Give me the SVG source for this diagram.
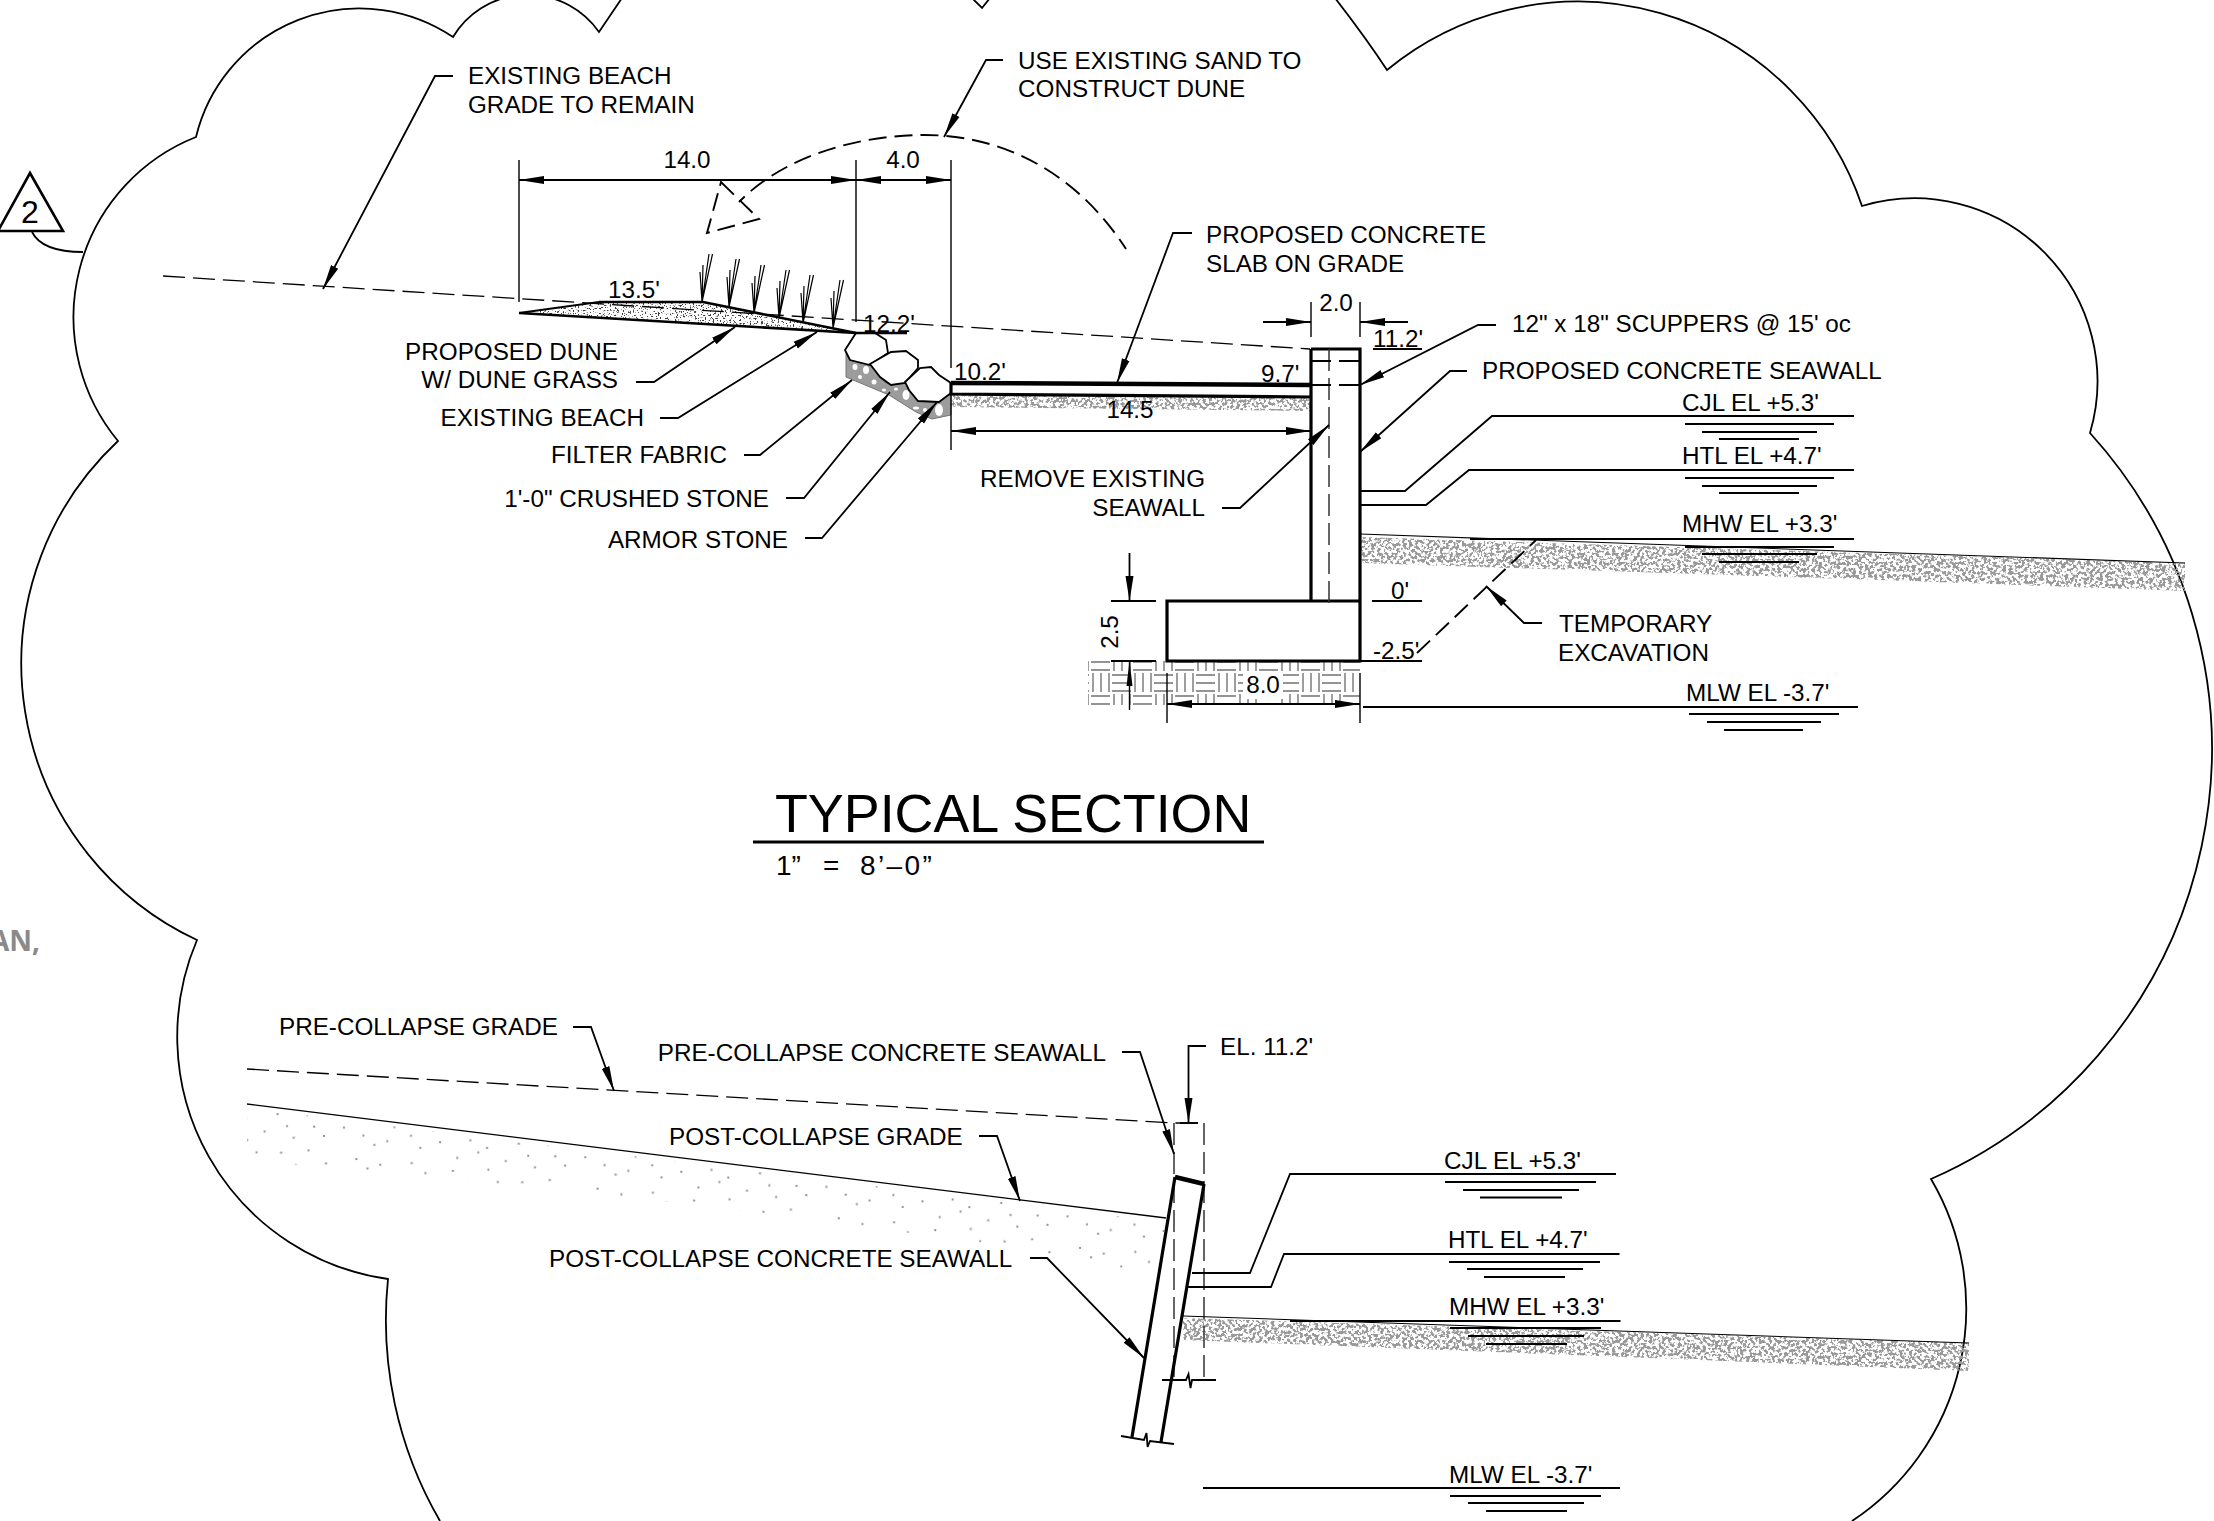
<svg xmlns="http://www.w3.org/2000/svg" width="2214" height="1521" viewBox="0 0 2214 1521">
<style>
text{font-family:"Liberation Sans",Arial,sans-serif;font-size:24.25px;fill:#000}
.e{text-anchor:end}.m{text-anchor:middle}
.l{fill:none;stroke:#000;stroke-width:1.8}
.thin{fill:none;stroke:#000;stroke-width:1.4}
.hair{fill:none;stroke:#000;stroke-width:1.1}
.a{fill:none;stroke:#000;stroke-width:1.8;marker-end:url(#ah)}
.d{fill:none;stroke:#000;stroke-width:1.8;marker-start:url(#ah2);marker-end:url(#ah)}
.t{fill:none;stroke:#000;stroke-width:2.6}
.w{fill:none;stroke:#000;stroke-width:3.2}
.gd{fill:none;stroke:#000;stroke-width:1.3;stroke-dasharray:22 8}
.ed{fill:none;stroke:#333;stroke-width:1.5;stroke-dasharray:22 7}
.cd{fill:none;stroke:#000;stroke-width:1.9;stroke-dasharray:18 8}
.stone{fill:#fff;stroke:#000;stroke-width:1.8}
.g{fill:#fff}
</style>
<defs>
<marker id="ah" markerUnits="userSpaceOnUse" markerWidth="26" markerHeight="12" viewBox="0 0 26 12" refX="25" refY="6" orient="auto"><path d="M0 2L25 6L0 10Z"/></marker>
<marker id="ah2" markerUnits="userSpaceOnUse" markerWidth="26" markerHeight="12" viewBox="0 0 26 12" refX="25" refY="6" orient="auto-start-reverse"><path d="M0 2L25 6L0 10Z"/></marker>
<filter id="sand" x="0" y="0" width="1" height="1" color-interpolation-filters="sRGB">
<feTurbulence type="fractalNoise" baseFrequency="0.32" numOctaves="2" seed="7" result="n"/>
<feColorMatrix in="n" type="matrix" values="0 0 0 0 .6 0 0 0 0 .6 0 0 0 0 .6 11 0 0 0 -5.2"/>
<feComposite in2="SourceAlpha" operator="in"/>
</filter>
<filter id="dune" x="0" y="0" width="1" height="1" color-interpolation-filters="sRGB">
<feTurbulence type="fractalNoise" baseFrequency="0.6" numOctaves="2" seed="4" result="n"/>
<feColorMatrix in="n" type="matrix" values="0 0 0 0 .25 0 0 0 0 .25 0 0 0 0 .25 12 0 0 0 -7"/>
<feComposite in2="SourceAlpha" operator="in"/>
</filter>
<pattern id="sparse" patternUnits="userSpaceOnUse" width="180" height="60" patternTransform="rotate(7) scale(1.35)">
<path fill="none" stroke="#8c8c8c" stroke-width="1.5" d="M5 4h1.4M14 10h1.4M22 6h1.4M31 13h1.4M36 8h1.4M9 22h1.4M18 28h1.4M27 24h1.4M44 18h1.4M52 26h1.4M60 12h1.4M66 20h1.4M72 9h1.4M80 30h1.4M88 16h1.4M95 24h1.4M101 20h1.4M108 10h1.4M116 28h1.4M124 14h1.4M132 22h1.4M138 30h1.4M146 12h1.4M152 20h1.4M160 26h1.4M168 8h1.4M174 18h1.4M6 40h1.4M15 46h1.4M24 42h1.4M38 50h1.4M47 38h1.4M58 44h1.4M70 52h1.4M78 40h1.4M90 48h1.4M104 36h1.4M112 44h1.4M120 54h1.4M130 42h1.4M142 50h1.4M150 38h1.4M164 46h1.4M172 54h1.4"/>
</pattern>
<pattern id="weave" patternUnits="userSpaceOnUse" x="1090" y="651" width="42" height="42">
<path d="M1 3H20M1 11H20M1 19H20M22 24H41M22 32H41M22 40H41M24 1V20M32 1V20M40 1V20M3 22V41M11 22V41M19 22V41" fill="none" stroke="#949494" stroke-width="1.8"/>
</pattern>
<g id="grass"><path d="M0 0L10.5 -48M0 0L7 -48M0 0L1 -37M0 0L-2 -30" fill="none" stroke="#000" stroke-width="1.2"/></g>
</defs>
<rect width="2214" height="1521" fill="#fff"/>

<g id="revision-cloud">
<path class="l" d="M440 1521A400 400 0 0 1 388 1279A245 245 0 0 1 197 940A305 305 0 0 1 118 441A194 194 0 0 1 196 137A168 168 0 0 1 453 37A87 87 0 0 1 599 32L622 -2"/>
<path class="l" d="M972 -2L982 8L990 -2"/>
<path class="l" d="M1335 -2Q1366 38 1387 70A300 300 0 0 1 1862 206A183 183 0 0 1 2090 433A470 470 0 0 1 1931 1179A255 255 0 0 1 1852 1521"/>
</g>
<g id="revision-tag">
<path d="M30 173L63 231L-2 231Z" fill="#fff" stroke="#000" stroke-width="2.6"/>
<path class="l" d="M32 232Q42 252 83 252"/>
<text x="30" y="223" class="m" style="font-size:32px">2</text>
</g>
<text id="cut-text" x="40" y="951" class="e" style="font-family:'Open Sans',sans-serif;font-size:28px;font-weight:700;fill:#8a8a8a">AN,</text>

<g id="section-typical">
<g id="fills">
<path filter="url(#sand)" d="M951 394L1311 397L1311 411L951 407Z"/>
<path filter="url(#sand)" d="M1360 537L2185 563L2185 591L1880 580L1360 563Z"/>
<path filter="url(#dune)" d="M519 313L599 302L703 302L856 333Z"/>
<rect x="1088" y="661" width="272" height="44" fill="url(#weave)"/>
<rect x="1243" y="672" width="40" height="27" fill="#fff"/>
</g>
<g id="armor">
<path fill="#9c9c9c" stroke="#777" stroke-width="1" d="M846 352L870 365L886 383L905 383L918 401L939 402L951 393L951 415L932 419L916 412L889 395L846 377Z"/>
<ellipse class="g" cx="855" cy="367" rx="2.5" ry="3"/><ellipse class="g" cx="866" cy="370" rx="3" ry="4"/><ellipse class="g" cx="860" cy="377" rx="2" ry="2"/>
<ellipse class="g" cx="874" cy="382" rx="2.5" ry="2.5"/><ellipse class="g" cx="884" cy="390" rx="2" ry="1.5"/><ellipse class="g" cx="896" cy="389" rx="2" ry="1.5"/>
<ellipse class="g" cx="906" cy="395" rx="3.5" ry="5"/><ellipse class="g" cx="916" cy="408" rx="3" ry="1.5"/><ellipse class="g" cx="939" cy="410" rx="4" ry="6"/><ellipse class="g" cx="925" cy="410" rx="2" ry="2"/>
<path class="stone" d="M856 333L875 333L886 340L888 353L870 365L850 360L845 350Z"/>
<path class="stone" d="M870 364L891 352L906 351L918 360L918 368L905 383L891 385L880 377Z"/>
<path class="stone" d="M905 382L920 368L931 367L939 375L951 383L951 393L939 402L918 401L909 390Z"/>
</g>
<g id="dune-body">
<path class="t" d="M519 313L856 333L907 333"/>
<path class="l" d="M519 313L599 302"/>
<path class="t" d="M599 302L703 302L856 333"/>
</g>
<g id="dune-grass">
<use href="#grass" x="702" y="302"/><use href="#grass" x="729" y="307"/><use href="#grass" x="754" y="313"/><use href="#grass" x="779" y="318"/><use href="#grass" x="803" y="323"/><use href="#grass" x="833" y="328"/>
</g>
<g id="grade-and-slab">
<path class="gd" d="M163 276L1310 349"/>
<path class="cd" d="M739 202C785 155 860 135 925 135C1000 135 1075 170 1126 249" stroke-dashoffset="-16"/>
<path class="cd" d="M721 182L759 219L707 233Z" stroke-dasharray="14 6"/>
<path d="M951 383L1311 385" fill="none" stroke="#000" stroke-width="4.5"/>
<path class="w" d="M951 383V394L1311 397"/>
</g>
<g id="seawall">
<path class="w" d="M1311 349H1360V661H1167V601H1360M1311 349V601"/>
<path class="ed" d="M1329 349V605"/>
<path d="M1311 361H1360M1311 385H1360" fill="none" stroke="#000" stroke-width="1.8" stroke-dasharray="20 8"/>
</g>
<path class="cd" d="M1417 653L1536 540" stroke-dasharray="26 8"/>
<path class="hair" d="M1360 534L2185 563"/>
</g>

<g id="connectors-typical">
<path class="thin" d="M519 160V302M856 160V322M951 160V368M951 382V450M1311 302V337M1360 302V337M1167 673V723M1360 673V723M1129.5 661V710"/>
<path class="d" d="M519 180H856"/>
<path class="d" d="M856 180H951"/>
<path class="d" d="M951 431H1311"/>
<path class="d" d="M1167 704H1360"/>
<path class="a" d="M1263 322H1311"/>
<path class="a" d="M1408 322H1360"/>
<path class="a" d="M1129.5 553V601"/>
<path d="M1129.5 661L1132.5 686H1126.5Z" fill="#000"/>
<path class="l" d="M1111 601H1156M1111 661H1156M1372 601H1422M1360 661H1422M1373 349H1422"/>
<path class="a" d="M453 76H435L323 289"/>
<path class="a" d="M1003 60H986L944 137"/>
<path class="a" d="M1192 233H1173L1117 383"/>
<path class="a" d="M636 382H654L735 327"/>
<path class="a" d="M660 418H678L817 332"/>
<path class="a" d="M744 455H760L852 380"/>
<path class="a" d="M786 498H804L890 392"/>
<path class="a" d="M805 538H822L937 402"/>
<path class="a" d="M1222 508H1240L1329 425"/>
<path class="a" d="M1496 325H1478L1360 385"/>
<path class="a" d="M1467 371H1450L1360 452"/>
<path class="a" d="M1542 623H1524L1486 586"/>
<path class="l" d="M1360 491H1405L1492 416H1854M1685 424H1834M1702 432H1817M1719 439H1799"/>
<path class="l" d="M1360 505H1426L1469 470H1854M1685 478H1834M1702 486H1817M1719 493H1799"/>
<path class="l" d="M1470 539H1854M1685 547H1834M1702 554H1817M1719 562H1799"/>
<path class="l" d="M1363 707H1858M1689 714H1839M1707 722H1821M1724 730H1803"/>
</g>

<g id="labels-typical">
<text x="468" y="84">EXISTING BEACH</text><text x="468" y="113">GRADE TO REMAIN</text>
<text x="1018" y="69">USE EXISTING SAND TO</text><text x="1018" y="97">CONSTRUCT DUNE</text>
<text x="1206" y="243">PROPOSED CONCRETE</text><text x="1206" y="272">SLAB ON GRADE</text>
<text x="1512" y="332">12" x 18" SCUPPERS @ 15' oc</text>
<text x="1482" y="379">PROPOSED CONCRETE SEAWALL</text>
<text x="687" y="168" class="m">14.0</text><text x="903" y="168" class="m">4.0</text>
<text x="608" y="298">13.5'</text><text x="863" y="332">12.2'</text><text x="954" y="380">10.2'</text>
<text x="1130" y="418" class="m">14.5</text><text x="1261" y="382">9.7'</text><text x="1373" y="347">11.2'</text>
<text x="1336" y="311" class="m">2.0</text><text x="1391" y="599">0'</text><text x="1373" y="659">-2.5'</text>
<text x="1263" y="693" class="m">8.0</text>
<text transform="translate(1118 632) rotate(-90)" class="m">2.5</text>
<text x="618" y="360" class="e">PROPOSED DUNE</text><text x="618" y="388" class="e">W/ DUNE GRASS</text>
<text x="644" y="426" class="e">EXISTING BEACH</text><text x="727" y="463" class="e">FILTER FABRIC</text>
<text x="769" y="507" class="e">1'-0" CRUSHED STONE</text><text x="788" y="548" class="e">ARMOR STONE</text>
<text x="1205" y="487" class="e">REMOVE EXISTING</text><text x="1205" y="516" class="e">SEAWALL</text>
<text x="1559" y="632">TEMPORARY</text><text x="1558" y="661">EXCAVATION</text>
<text x="1682" y="411">CJL EL +5.3'</text><text x="1682" y="464">HTL EL +4.7'</text><text x="1682" y="532">MHW EL +3.3'</text><text x="1686" y="701">MLW EL -3.7'</text>
</g>

<g id="title">
<text x="775" y="832" style="font-size:53.8px">TYPICAL SECTION</text>
<path d="M753 842H1264" stroke="#000" stroke-width="3"/>
<text y="875" style="font-size:28px"><tspan x="776">1”</tspan><tspan x="823">=</tspan><tspan x="860" letter-spacing="2.4">8’–0”</tspan></text>
</g>

<g id="section-collapse">
<path fill="url(#sparse)" d="M247 1108L1165 1222L1160 1275L1000 1245L700 1205L247 1160Z"/>
<path filter="url(#sand)" d="M1183 1318L1969 1343L1969 1371L1650 1358L1183 1340Z"/>
<path class="gd" d="M247 1069L1174 1123H1204"/>
<path class="ed" d="M1174 1123V1380M1204 1123V1380"/>
<path class="thin" d="M247 1104L1166 1218"/>
<path class="hair" d="M1183 1316L1969 1343"/>
<path class="w" d="M1175 1177L1132 1437M1204 1184L1161 1442"/>
<path d="M1175 1177L1204 1184" stroke="#000" stroke-width="4.5"/>
<path class="l" d="M1121 1436L1144 1440L1146.5 1433L1147.6 1447L1150 1441L1174 1444"/>
<path class="l" d="M1162 1380H1186L1188.5 1374L1190.5 1388L1192 1380H1216"/>
</g>
<g id="connectors-collapse">
<path class="a" d="M573 1027H591L614 1091"/>
<path class="a" d="M1122 1052H1140L1174 1154"/>
<path class="a" d="M1206 1046H1188.5V1123"/>
<path class="l" d="M1180 1123H1198"/>
<path class="a" d="M979 1136H997L1020 1201"/>
<path class="a" d="M1030 1258H1047L1144 1358"/>
<path class="l" d="M1192 1273H1250L1290 1174H1616M1445 1182H1596M1463 1190H1579M1480 1197.5H1562"/>
<path class="l" d="M1188 1287H1271L1284 1254H1619.5M1449 1262H1600M1467 1269H1583M1484 1277H1565"/>
<path class="l" d="M1290 1321H1620.5M1450 1328H1601M1468 1336H1584M1486 1344H1567"/>
<path class="l" d="M1203 1488H1620M1450 1496H1601M1468 1503H1584M1486 1511H1567"/>
</g>
<g id="labels-collapse">
<text x="279" y="1035">PRE-COLLAPSE GRADE</text>
<text x="1106" y="1061" class="e">PRE-COLLAPSE CONCRETE SEAWALL</text>
<text x="1220" y="1055">EL. 11.2'</text>
<text x="669" y="1145">POST-COLLAPSE GRADE</text>
<text x="549" y="1267">POST-COLLAPSE CONCRETE SEAWALL</text>
<text x="1444" y="1169">CJL EL +5.3'</text><text x="1448" y="1248">HTL EL +4.7'</text><text x="1449" y="1315">MHW EL +3.3'</text><text x="1449" y="1483">MLW EL -3.7'</text>
</g>
</svg>
